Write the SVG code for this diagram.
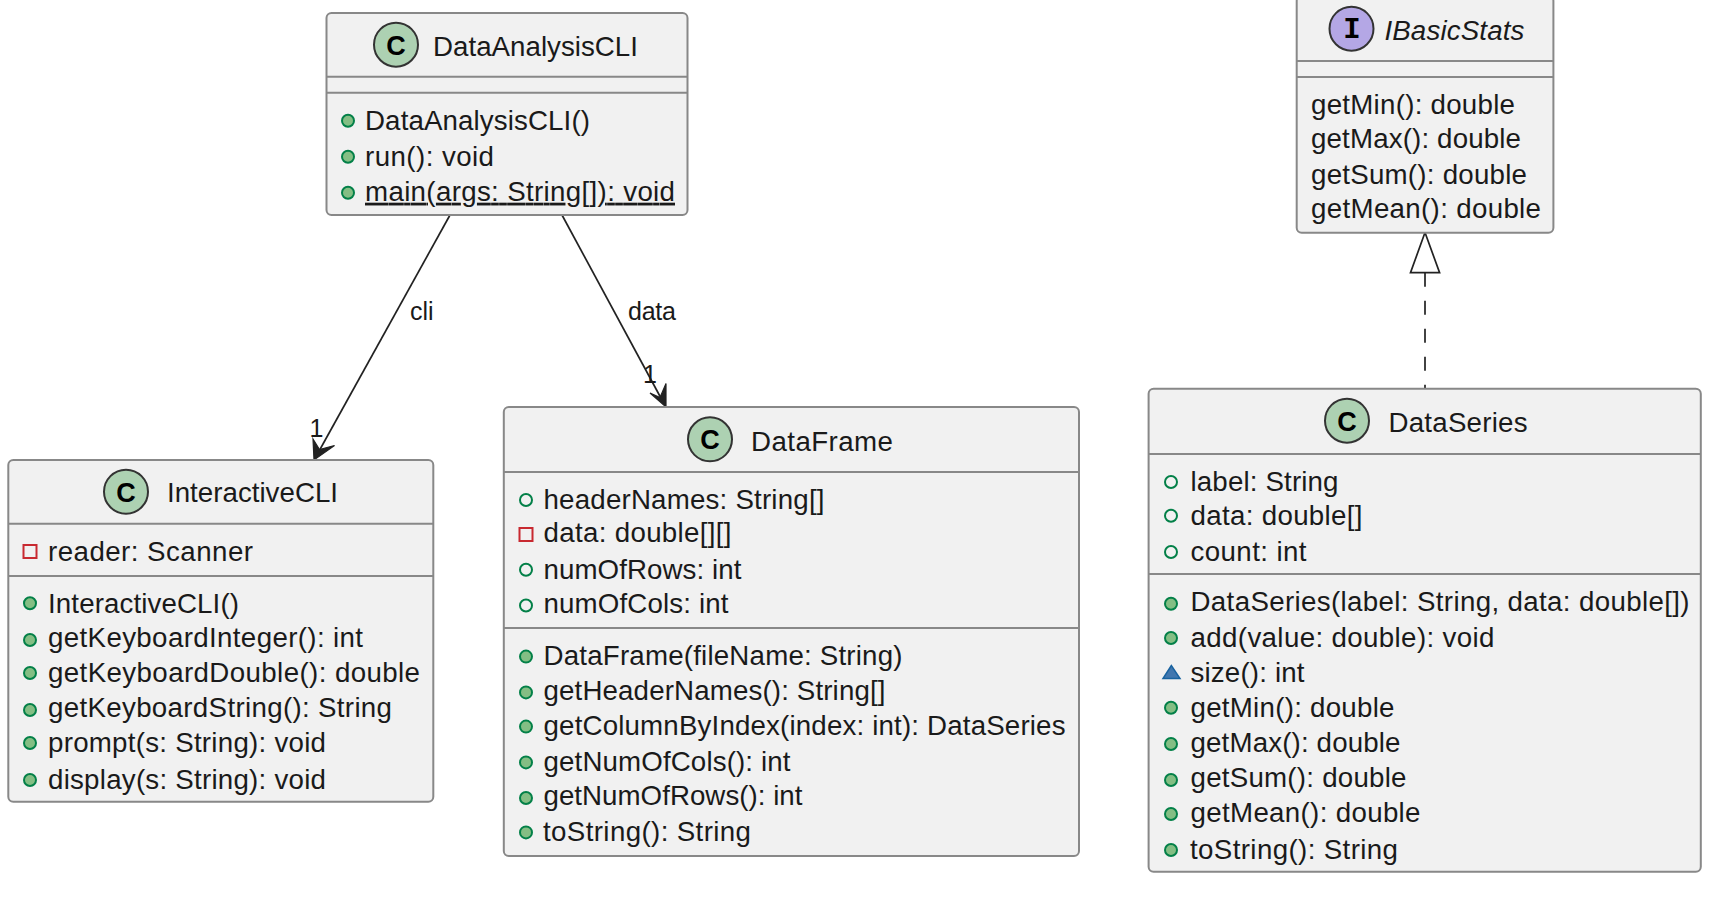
<svg xmlns="http://www.w3.org/2000/svg" width="1725" height="900" viewBox="0 0 1725 900">
<style>
.box{fill:#F1F1F1;stroke:#888;stroke-width:2}
.div{stroke:#888;stroke-width:2}
text{font-family:"Liberation Sans",Arial,sans-serif;fill:#1a1a1a}
.t{font-size:27.7px}
.m{font-size:27.7px}
.l{font-size:25px}
.i{font-style:italic}
.cc{fill:#ADD1B2;stroke:#333;stroke-width:2}
.ci{fill:#B4A7E5;stroke:#333;stroke-width:2}
.g{font-family:"Liberation Sans",sans-serif;font-weight:bold;font-size:27px;text-anchor:middle;fill:#000}
.gi{font-family:"Liberation Mono",monospace;font-weight:bold;font-size:29px;text-anchor:middle;fill:#000}
.pub{fill:#84BE84;stroke:#038048;stroke-width:2}
.fld{fill:none;stroke:#038048;stroke-width:2}
.pri{fill:none;stroke:#C82930;stroke-width:2}
.pkg{fill:#4177AF;stroke:#1963A0;stroke-width:1.5}
.line{fill:none;stroke:#222;stroke-width:1.7}
.dash{stroke-dasharray:14 14}
.head{fill:#222;stroke:#222;stroke-width:1.2}
.real{fill:#fff;stroke:#222;stroke-width:1.7}
</style>
<g id="connectors">
<path class="line" d="M450 215L318 453"/>
<path class="head" d="M314 460L313 439L319.500 449.500L334.500 445.500Z"/>
<path class="line" d="M562 215L662 400"/>
<path class="head" d="M666 407L666 383.500L660 397.500L650 393Z"/>
<path class="line dash" d="M1425 272.700V388.700"/>
<path class="real" d="M1425 232.500L1410.500 272.700H1439.600Z"/>
<text class="l" x="410" y="319.500">cli</text>
<text class="l" x="628" y="319.500" textLength="48">data</text>
<text class="l" x="309.500" y="437">1</text>
<text class="l" x="643" y="383">1</text>
</g>
<g id="DataAnalysisCLI">
<rect class="box" x="326.500" y="13" width="361" height="202" rx="5"/>
<path class="div" d="M326.500 76.700H687.500M326.500 92.700H687.500"/>
<circle class="cc" cx="396" cy="44.700" r="22"/><text class="g" x="396" y="54.500">C</text>
<text class="t" x="433" y="55.500" textLength="205">DataAnalysisCLI</text>
<circle class="pub" cx="348" cy="120.700" r="6"/><text class="m" x="365" y="129.700" textLength="225">DataAnalysisCLI()</text>
<circle class="pub" cx="348" cy="156.700" r="6"/><text class="m" x="365" y="165.700" textLength="129">run(): void</text>
<circle class="pub" cx="348" cy="192.700" r="6"/><text class="m" x="365" y="200.700" text-decoration="underline" textLength="310">main(args: String[]): void</text>
</g>
<g id="InteractiveCLI">
<rect class="box" x="8.300" y="460" width="425" height="341.700" rx="5"/>
<path class="div" d="M8.300 523.700H433.300M8.300 576H433.300"/>
<circle class="cc" cx="126" cy="491.700" r="22"/><text class="g" x="126" y="501.500">C</text>
<text class="t" x="167" y="502.400" textLength="171">InteractiveCLI</text>
<rect class="pri" x="23.500" y="545" width="13" height="13"/><text class="m" x="48" y="560.700" textLength="205">reader: Scanner</text>
<circle class="pub" cx="30" cy="603.300" r="6"/><text class="m" x="48" y="612.700" textLength="191">InteractiveCLI()</text>
<circle class="pub" cx="30" cy="640" r="6"/><text class="m" x="48" y="647.400" textLength="315">getKeyboardInteger(): int</text>
<circle class="pub" cx="30" cy="673" r="6"/><text class="m" x="48" y="682.400" textLength="372">getKeyboardDouble(): double</text>
<circle class="pub" cx="30" cy="710" r="6"/><text class="m" x="48" y="717.400" textLength="344">getKeyboardString(): String</text>
<circle class="pub" cx="30" cy="743" r="6"/><text class="m" x="48" y="752.400" textLength="278">prompt(s: String): void</text>
<circle class="pub" cx="30" cy="780" r="6"/><text class="m" x="48" y="788.700" textLength="278">display(s: String): void</text>
</g>
<g id="DataFrame">
<rect class="box" x="503.800" y="407" width="575.200" height="449" rx="5"/>
<path class="div" d="M503.800 472H1079M503.800 628H1079"/>
<circle class="cc" cx="710" cy="439.300" r="22"/><text class="g" x="710" y="449">C</text>
<text class="t" x="751" y="450.600" textLength="142">DataFrame</text>
<circle class="fld" cx="526" cy="500" r="6"/><text class="m" x="543.500" y="509" textLength="281">headerNames: String[]</text>
<rect class="pri" x="519.500" y="528" width="13" height="13"/><text class="m" x="543.500" y="542.400" textLength="188">data: double[][]</text>
<circle class="fld" cx="526" cy="569.700" r="6"/><text class="m" x="543.500" y="578.500" textLength="198">numOfRows: int</text>
<circle class="fld" cx="526" cy="605.500" r="6"/><text class="m" x="543.500" y="613" textLength="185">numOfCols: int</text>
<circle class="pub" cx="526" cy="656.600" r="6"/><text class="m" x="543.500" y="665" textLength="359">DataFrame(fileName: String)</text>
<circle class="pub" cx="526" cy="692.400" r="6"/><text class="m" x="543.500" y="700.400" textLength="342">getHeaderNames(): String[]</text>
<circle class="pub" cx="526" cy="726.600" r="6"/><text class="m" x="543.500" y="735" textLength="522">getColumnByIndex(index: int): DataSeries</text>
<circle class="pub" cx="526" cy="762.400" r="6"/><text class="m" x="543.500" y="770.800" textLength="247">getNumOfCols(): int</text>
<circle class="pub" cx="526" cy="798" r="6"/><text class="m" x="543.500" y="805.300" textLength="259">getNumOfRows(): int</text>
<circle class="pub" cx="526" cy="832.400" r="6"/><text class="m" x="543" y="841.300" textLength="208">toString(): String</text>
</g>
<g id="IBasicStats">
<rect class="box" x="1296.700" y="-4" width="256.700" height="236.700" rx="5"/>
<path class="div" d="M1296.700 61H1553.400M1296.700 77H1553.400"/>
<circle class="ci" cx="1351.500" cy="28.700" r="22"/><text class="gi" x="1352" y="37.500">I</text>
<text class="t i" x="1384.400" y="39.600" textLength="140">IBasicStats</text>
<text class="m" x="1311" y="114" textLength="204">getMin(): double</text>
<text class="m" x="1311" y="148.400" textLength="210">getMax(): double</text>
<text class="m" x="1311" y="184" textLength="216">getSum(): double</text>
<text class="m" x="1311" y="218" textLength="230">getMean(): double</text>
</g>
<g id="DataSeries">
<rect class="box" x="1148.600" y="388.700" width="552.200" height="483" rx="5"/>
<path class="div" d="M1148.600 454H1700.800M1148.600 574H1700.800"/>
<circle class="cc" cx="1347" cy="420.700" r="22"/><text class="g" x="1347" y="430.500">C</text>
<text class="t" x="1388.500" y="432" textLength="139">DataSeries</text>
<circle class="fld" cx="1171" cy="482" r="6"/><text class="m" x="1190.500" y="490.700" textLength="148">label: String</text>
<circle class="fld" cx="1171" cy="515.700" r="6"/><text class="m" x="1190.500" y="525" textLength="172">data: double[]</text>
<circle class="fld" cx="1171" cy="552" r="6"/><text class="m" x="1190.500" y="560.700" textLength="116">count: int</text>
<circle class="pub" cx="1171" cy="603.700" r="6"/><text class="m" x="1190.500" y="610.700" textLength="499">DataSeries(label: String, data: double[])</text>
<circle class="pub" cx="1171" cy="638" r="6"/><text class="m" x="1190.500" y="647.400" textLength="304">add(value: double): void</text>
<path class="pkg" d="M1171.400 665.500L1163 678.500H1180Z"/><text class="m" x="1190.500" y="682.400" textLength="114">size(): int</text>
<circle class="pub" cx="1171" cy="707.700" r="6"/><text class="m" x="1190.500" y="717.400" textLength="204">getMin(): double</text>
<circle class="pub" cx="1171" cy="744" r="6"/><text class="m" x="1190.500" y="752.400" textLength="210">getMax(): double</text>
<circle class="pub" cx="1171" cy="780" r="6"/><text class="m" x="1190.500" y="787.400" textLength="216">getSum(): double</text>
<circle class="pub" cx="1171" cy="814" r="6"/><text class="m" x="1190.500" y="822.400" textLength="230">getMean(): double</text>
<circle class="pub" cx="1171" cy="850" r="6"/><text class="m" x="1190" y="858.500" textLength="208">toString(): String</text>
</g>
</svg>
